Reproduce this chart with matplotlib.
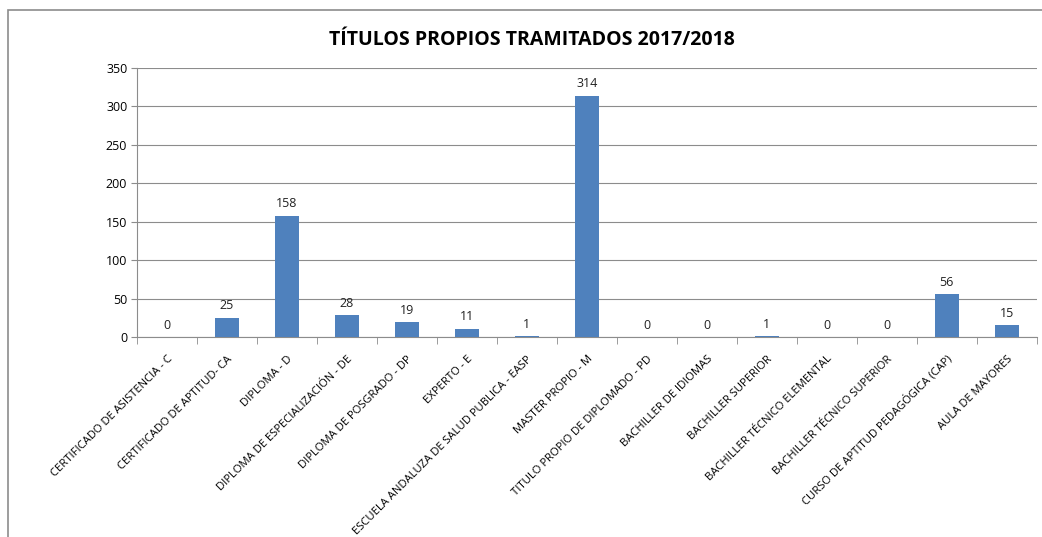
import matplotlib
matplotlib.use("Agg")
import matplotlib.pyplot as plt
from matplotlib.patches import Rectangle
from matplotlib.ticker import FixedLocator

categories = [
    "CERTIFICADO DE ASISTENCIA - C",
    "CERTIFICADO DE APTITUD- CA",
    "DIPLOMA - D",
    "DIPLOMA DE ESPECIALIZACIÓN - DE",
    "DIPLOMA DE POSGRADO - DP",
    "EXPERTO - E",
    "ESCUELA ANDALUZA DE SALUD PUBLICA - EASP",
    "MASTER PROPIO - M",
    "TITULO PROPIO DE DIPLOMADO - PD",
    "BACHILLER DE IDIOMAS",
    "BACHILLER SUPERIOR",
    "BACHILLER TÉCNICO ELEMENTAL",
    "BACHILLER TÉCNICO SUPERIOR",
    "CURSO DE APTITUD PEDAGÓGICA (CAP)",
    "AULA DE MAYORES",
]
values = [0, 25, 158, 28, 19, 11, 1, 314, 0, 0, 1, 0, 0, 56, 15]
yticks = [0, 50, 100, 150, 200, 250, 300, 350]
title = "TÍTULOS PROPIOS TRAMITADOS 2017/2018"

plt.rcParams['font.family'] = ['Open Sans', 'DejaVu Sans']

fig = plt.figure(figsize=(10.42, 5.37), dpi=100)
ax = fig.add_axes([0.1315, 0.3724, 0.8635, 0.501])

# chart frame
fig.patches.append(Rectangle((8/1042, -0.1), 1.2, 1 - 10/537 + 0.1,
                             transform=fig.transFigure, fill=False,
                             edgecolor='#8c8c8c', linewidth=1.2))

x = list(range(len(categories)))
bars = ax.bar(x, values, width=0.4, color='#4F81BD', zorder=3)
for xi, v in zip(x, values):
    ax.text(xi, v + 7, str(v), ha='center', va='bottom', fontsize=9, color='#222222')

ax.set_xlim(-0.5, len(categories) - 0.5)
ax.set_ylim(0, 350)
ax.set_yticks(yticks)
ax.yaxis.grid(True, color='#8c8c8c', linewidth=0.8, zorder=0)
ax.tick_params(axis='y', labelsize=9, length=4, color='#8c8c8c', pad=3)

ax.set_xticks(x)
ax.set_xticklabels(categories, rotation=45, ha='right', rotation_mode='anchor', fontsize=8.1)
ax.tick_params(axis='x', length=0, pad=12)
ax.xaxis.set_minor_locator(FixedLocator([i + 0.5 for i in range(-1, len(categories))]))
ax.tick_params(axis='x', which='minor', length=5, color='#8c8c8c')

for s in ['top', 'right']:
    ax.spines[s].set_visible(False)
for s in ['left', 'bottom']:
    ax.spines[s].set_color('#8c8c8c')

fig.text(0.51, 1 - 40/537, title, ha='center', va='center', fontsize=14,
         fontweight='bold', family=['Open Sans', 'DejaVu Sans'])

fig.savefig("out.png", dpi=100)
